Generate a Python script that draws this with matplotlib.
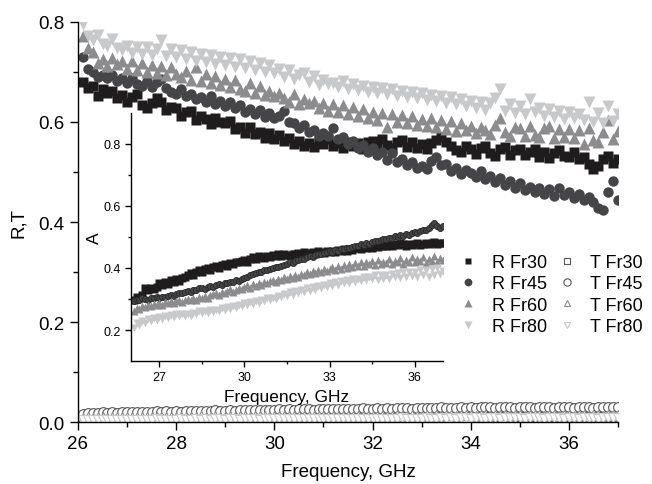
import numpy as np
import matplotlib
matplotlib.use('Agg')
import matplotlib.pyplot as plt

plt.rcParams['font.family'] = ['Liberation Sans', 'DejaVu Sans']

# measurement grid, GHz (26.1 ... 37.0, step 0.1)
freq = np.arange(261, 371) / 10.0

# reflection, main plot
r_fr30 = [0.680, 0.668, 0.672, 0.652, 0.666, 0.658, 0.662, 0.648, 0.654,
          0.640, 0.650, 0.656, 0.634, 0.628, 0.638, 0.648, 0.640, 0.624, 0.630,
          0.628, 0.612, 0.620, 0.622, 0.604, 0.612, 0.606, 0.596, 0.608, 0.600,
          0.598, 0.602, 0.586, 0.590, 0.578, 0.590, 0.576, 0.580, 0.568, 0.578,
          0.566, 0.574, 0.562, 0.568, 0.556, 0.562, 0.552, 0.558, 0.550, 0.562,
          0.556, 0.566, 0.552, 0.558, 0.548, 0.560, 0.552, 0.558, 0.546, 0.560,
          0.562, 0.552, 0.566, 0.554, 0.548, 0.560, 0.564, 0.550, 0.560, 0.548,
          0.556, 0.546, 0.558, 0.564, 0.570, 0.560, 0.552, 0.544, 0.540, 0.552,
          0.546, 0.536, 0.548, 0.552, 0.538, 0.532, 0.546, 0.550, 0.534, 0.544,
          0.546, 0.534, 0.540, 0.546, 0.530, 0.540, 0.528, 0.538, 0.544, 0.532,
          0.530, 0.540, 0.526, 0.530, 0.516, 0.506, 0.512, 0.526, 0.532, 0.518,
          0.526]
r_fr45 = [0.730, 0.706, 0.700, 0.690, 0.694, 0.688, 0.694, 0.682, 0.688,
          0.678, 0.688, 0.676, 0.672, 0.682, 0.670, 0.680, 0.686, 0.668, 0.660,
          0.656, 0.666, 0.652, 0.656, 0.646, 0.650, 0.640, 0.652, 0.636, 0.642,
          0.632, 0.640, 0.628, 0.634, 0.620, 0.626, 0.616, 0.624, 0.610, 0.618,
          0.608, 0.612, 0.622, 0.600, 0.598, 0.588, 0.594, 0.580, 0.584, 0.572,
          0.578, 0.572, 0.588, 0.566, 0.570, 0.556, 0.562, 0.548, 0.554, 0.540,
          0.548, 0.534, 0.540, 0.524, 0.538, 0.520, 0.526, 0.514, 0.520, 0.508,
          0.512, 0.506, 0.522, 0.530, 0.514, 0.516, 0.502, 0.508, 0.496, 0.504,
          0.498, 0.490, 0.502, 0.486, 0.492, 0.480, 0.488, 0.474, 0.482, 0.468,
          0.478, 0.464, 0.470, 0.460, 0.468, 0.456, 0.466, 0.452, 0.468, 0.454,
          0.460, 0.448, 0.456, 0.444, 0.450, 0.440, 0.428, 0.424, 0.460, 0.482,
          0.444]
r_fr60 = [0.772, 0.748, 0.740, 0.718, 0.726, 0.712, 0.728, 0.716, 0.722,
          0.706, 0.722, 0.704, 0.718, 0.700, 0.714, 0.698, 0.712, 0.694, 0.710,
          0.696, 0.690, 0.702, 0.684, 0.710, 0.682, 0.696, 0.678, 0.692, 0.674,
          0.686, 0.670, 0.684, 0.666, 0.662, 0.678, 0.658, 0.672, 0.654, 0.662,
          0.652, 0.658, 0.648, 0.640, 0.656, 0.636, 0.646, 0.638, 0.642, 0.628,
          0.638, 0.622, 0.636, 0.620, 0.634, 0.616, 0.630, 0.612, 0.626, 0.608,
          0.620, 0.604, 0.618, 0.590, 0.616, 0.600, 0.614, 0.598, 0.612, 0.594,
          0.606, 0.592, 0.608, 0.590, 0.604, 0.586, 0.602, 0.582, 0.598, 0.584,
          0.592, 0.578, 0.590, 0.584, 0.576, 0.594, 0.608, 0.580, 0.572, 0.590,
          0.588, 0.572, 0.592, 0.574, 0.570, 0.588, 0.592, 0.568, 0.586, 0.570,
          0.586, 0.568, 0.584, 0.556, 0.588, 0.564, 0.560, 0.580, 0.604, 0.566,
          0.582]
r_fr80 = [0.796, 0.772, 0.764, 0.774, 0.756, 0.752, 0.766, 0.748, 0.744,
          0.752, 0.738, 0.750, 0.736, 0.750, 0.734, 0.746, 0.764, 0.732, 0.746,
          0.730, 0.744, 0.726, 0.740, 0.722, 0.736, 0.720, 0.734, 0.716, 0.730,
          0.714, 0.728, 0.710, 0.726, 0.708, 0.722, 0.704, 0.718, 0.700, 0.714,
          0.698, 0.706, 0.690, 0.704, 0.686, 0.694, 0.698, 0.680, 0.692, 0.674,
          0.684, 0.676, 0.678, 0.670, 0.682, 0.666, 0.676, 0.664, 0.672, 0.660,
          0.670, 0.658, 0.668, 0.656, 0.666, 0.652, 0.662, 0.650, 0.660, 0.648,
          0.658, 0.644, 0.654, 0.642, 0.652, 0.638, 0.650, 0.636, 0.646, 0.632,
          0.642, 0.628, 0.640, 0.624, 0.638, 0.648, 0.666, 0.622, 0.636, 0.618,
          0.632, 0.616, 0.646, 0.620, 0.628, 0.612, 0.626, 0.610, 0.622, 0.606,
          0.620, 0.608, 0.616, 0.604, 0.640, 0.600, 0.618, 0.598, 0.632, 0.602,
          0.616]

# transmission, main plot
t_fr30 = [0.007, 0.008, 0.007, 0.008, 0.007, 0.008, 0.008, 0.007, 0.008,
          0.008, 0.008, 0.007, 0.008, 0.008, 0.009, 0.008, 0.008, 0.009, 0.008,
          0.008, 0.009, 0.008, 0.009, 0.009, 0.008, 0.009, 0.009, 0.008, 0.009,
          0.009, 0.009, 0.008, 0.009, 0.009, 0.010, 0.009, 0.009, 0.010, 0.009,
          0.009, 0.010, 0.009, 0.010, 0.009, 0.010, 0.010, 0.009, 0.010, 0.010,
          0.010, 0.009, 0.010, 0.010, 0.010, 0.011, 0.010, 0.010, 0.011, 0.010,
          0.010, 0.011, 0.010, 0.011, 0.010, 0.011, 0.011, 0.010, 0.011, 0.011,
          0.011, 0.010, 0.011, 0.011, 0.011, 0.012, 0.011, 0.011, 0.012, 0.011,
          0.011, 0.012, 0.011, 0.012, 0.011, 0.012, 0.012, 0.011, 0.012, 0.012,
          0.012, 0.011, 0.012, 0.012, 0.012, 0.011, 0.012, 0.012, 0.011, 0.012,
          0.012, 0.011, 0.012, 0.012, 0.011, 0.012, 0.012, 0.011, 0.012, 0.012,
          0.012]
t_fr45 = [0.017, 0.019, 0.018, 0.019, 0.020, 0.019, 0.020, 0.019, 0.020,
          0.020, 0.021, 0.020, 0.021, 0.020, 0.021, 0.022, 0.021, 0.022, 0.021,
          0.022, 0.021, 0.022, 0.023, 0.022, 0.023, 0.022, 0.023, 0.024, 0.023,
          0.023, 0.024, 0.023, 0.024, 0.025, 0.024, 0.024, 0.025, 0.024, 0.025,
          0.025, 0.026, 0.025, 0.026, 0.025, 0.026, 0.027, 0.026, 0.025, 0.026,
          0.026, 0.027, 0.026, 0.027, 0.026, 0.027, 0.026, 0.027, 0.028, 0.027,
          0.027, 0.028, 0.027, 0.028, 0.027, 0.028, 0.029, 0.028, 0.027, 0.028,
          0.028, 0.029, 0.028, 0.029, 0.030, 0.029, 0.028, 0.029, 0.030, 0.029,
          0.030, 0.029, 0.030, 0.031, 0.030, 0.029, 0.030, 0.031, 0.030, 0.029,
          0.030, 0.031, 0.030, 0.029, 0.030, 0.031, 0.030, 0.029, 0.030, 0.031,
          0.030, 0.029, 0.030, 0.031, 0.030, 0.029, 0.030, 0.031, 0.030, 0.031,
          0.030]
t_fr60 = [0.009, 0.010, 0.009, 0.010, 0.010, 0.009, 0.010, 0.010, 0.010,
          0.010, 0.011, 0.010, 0.010, 0.011, 0.010, 0.011, 0.011, 0.010, 0.011,
          0.011, 0.011, 0.010, 0.011, 0.011, 0.012, 0.011, 0.011, 0.012, 0.011,
          0.011, 0.012, 0.011, 0.012, 0.012, 0.011, 0.012, 0.012, 0.012, 0.011,
          0.012, 0.012, 0.013, 0.012, 0.012, 0.013, 0.012, 0.012, 0.013, 0.012,
          0.012, 0.013, 0.012, 0.013, 0.013, 0.012, 0.013, 0.013, 0.012, 0.013,
          0.013, 0.013, 0.012, 0.013, 0.013, 0.014, 0.013, 0.013, 0.014, 0.013,
          0.013, 0.014, 0.013, 0.014, 0.013, 0.014, 0.014, 0.013, 0.014, 0.014,
          0.014, 0.013, 0.014, 0.014, 0.013, 0.014, 0.014, 0.014, 0.013, 0.014,
          0.014, 0.013, 0.014, 0.014, 0.014, 0.013, 0.014, 0.014, 0.013, 0.014,
          0.014, 0.013, 0.014, 0.014, 0.013, 0.014, 0.014, 0.013, 0.014, 0.014,
          0.014]
t_fr80 = [0.004, 0.005, 0.004, 0.005, 0.005, 0.004, 0.005, 0.005, 0.005,
          0.005, 0.005, 0.004, 0.005, 0.005, 0.005, 0.006, 0.005, 0.005, 0.005,
          0.005, 0.006, 0.005, 0.005, 0.006, 0.005, 0.006, 0.005, 0.006, 0.006,
          0.005, 0.006, 0.006, 0.005, 0.006, 0.006, 0.006, 0.005, 0.006, 0.006,
          0.006, 0.006, 0.007, 0.006, 0.006, 0.006, 0.007, 0.006, 0.006, 0.007,
          0.006, 0.007, 0.006, 0.007, 0.007, 0.006, 0.007, 0.007, 0.006, 0.007,
          0.007, 0.007, 0.006, 0.007, 0.007, 0.007, 0.008, 0.007, 0.007, 0.007,
          0.007, 0.008, 0.007, 0.007, 0.008, 0.007, 0.008, 0.007, 0.008, 0.008,
          0.007, 0.008, 0.008, 0.007, 0.008, 0.008, 0.007, 0.008, 0.008, 0.008,
          0.008, 0.007, 0.008, 0.008, 0.008, 0.007, 0.008, 0.008, 0.008, 0.007,
          0.008, 0.008, 0.007, 0.008, 0.008, 0.008, 0.007, 0.008, 0.008, 0.008,
          0.008]

# absorption, inset
a_fr30 = [0.296, 0.308, 0.304, 0.312, 0.334, 0.330, 0.336, 0.332, 0.340,
          0.352, 0.344, 0.356, 0.348, 0.360, 0.354, 0.364, 0.358, 0.368, 0.372,
          0.376, 0.384, 0.378, 0.388, 0.392, 0.386, 0.396, 0.400, 0.394, 0.404,
          0.406, 0.400, 0.410, 0.414, 0.408, 0.416, 0.412, 0.420, 0.418, 0.422,
          0.426, 0.420, 0.430, 0.434, 0.428, 0.438, 0.436, 0.432, 0.440, 0.436,
          0.442, 0.438, 0.444, 0.440, 0.446, 0.442, 0.438, 0.446, 0.444, 0.448,
          0.446, 0.450, 0.444, 0.448, 0.452, 0.446, 0.454, 0.450, 0.448, 0.454,
          0.452, 0.456, 0.450, 0.458, 0.454, 0.460, 0.456, 0.462, 0.458, 0.464,
          0.466, 0.462, 0.468, 0.464, 0.470, 0.466, 0.472, 0.468, 0.474, 0.470,
          0.472, 0.476, 0.470, 0.478, 0.474, 0.480, 0.476, 0.472, 0.478, 0.474,
          0.476, 0.480, 0.474, 0.478, 0.482, 0.476, 0.480, 0.484, 0.478, 0.482,
          0.480]
a_fr45 = [0.292, 0.298, 0.296, 0.302, 0.300, 0.298, 0.304, 0.302, 0.306,
          0.304, 0.308, 0.306, 0.310, 0.312, 0.310, 0.316, 0.318, 0.320, 0.322,
          0.326, 0.324, 0.330, 0.328, 0.334, 0.336, 0.332, 0.338, 0.342, 0.340,
          0.344, 0.348, 0.346, 0.352, 0.350, 0.356, 0.354, 0.360, 0.358, 0.364,
          0.368, 0.372, 0.376, 0.380, 0.384, 0.388, 0.386, 0.392, 0.394, 0.398,
          0.400, 0.404, 0.402, 0.408, 0.410, 0.414, 0.418, 0.416, 0.422, 0.426,
          0.430, 0.428, 0.434, 0.438, 0.436, 0.442, 0.446, 0.444, 0.448, 0.452,
          0.454, 0.450, 0.458, 0.456, 0.462, 0.460, 0.466, 0.464, 0.468, 0.470,
          0.472, 0.476, 0.474, 0.480, 0.478, 0.484, 0.488, 0.486, 0.490, 0.494,
          0.492, 0.498, 0.496, 0.502, 0.500, 0.506, 0.504, 0.510, 0.508, 0.514,
          0.516, 0.512, 0.520, 0.524, 0.522, 0.530, 0.540, 0.546, 0.536, 0.528,
          0.534]
a_fr60 = [0.262, 0.272, 0.268, 0.278, 0.274, 0.280, 0.276, 0.284, 0.280,
          0.286, 0.282, 0.290, 0.286, 0.294, 0.288, 0.292, 0.298, 0.290, 0.296,
          0.300, 0.296, 0.304, 0.298, 0.306, 0.302, 0.310, 0.304, 0.312, 0.316,
          0.318, 0.314, 0.322, 0.318, 0.326, 0.332, 0.324, 0.330, 0.336, 0.332,
          0.338, 0.344, 0.336, 0.348, 0.342, 0.352, 0.346, 0.354, 0.350, 0.358,
          0.360, 0.356, 0.366, 0.362, 0.370, 0.366, 0.374, 0.368, 0.378, 0.372,
          0.380, 0.376, 0.386, 0.380, 0.390, 0.384, 0.392, 0.386, 0.398, 0.390,
          0.396, 0.402, 0.392, 0.406, 0.398, 0.410, 0.400, 0.412, 0.404, 0.416,
          0.408, 0.418, 0.406, 0.420, 0.412, 0.424, 0.410, 0.426, 0.414, 0.420,
          0.416, 0.428, 0.412, 0.424, 0.418, 0.432, 0.414, 0.426, 0.420, 0.434,
          0.418, 0.430, 0.422, 0.436, 0.416, 0.428, 0.424, 0.438, 0.420, 0.432,
          0.426]
a_fr80 = [0.206, 0.224, 0.216, 0.230, 0.222, 0.236, 0.228, 0.240, 0.232,
          0.242, 0.236, 0.246, 0.238, 0.248, 0.242, 0.252, 0.244, 0.250, 0.246,
          0.252, 0.246, 0.256, 0.250, 0.260, 0.254, 0.262, 0.256, 0.264, 0.258,
          0.266, 0.260, 0.270, 0.264, 0.274, 0.268, 0.278, 0.272, 0.282, 0.276,
          0.286, 0.280, 0.290, 0.284, 0.294, 0.288, 0.298, 0.292, 0.302, 0.296,
          0.304, 0.300, 0.310, 0.306, 0.316, 0.310, 0.322, 0.314, 0.326, 0.318,
          0.330, 0.322, 0.334, 0.326, 0.338, 0.330, 0.342, 0.334, 0.346, 0.338,
          0.350, 0.342, 0.354, 0.346, 0.358, 0.350, 0.362, 0.352, 0.364, 0.356,
          0.366, 0.358, 0.370, 0.360, 0.372, 0.364, 0.376, 0.362, 0.378, 0.366,
          0.376, 0.366, 0.382, 0.370, 0.384, 0.368, 0.386, 0.372, 0.388, 0.374,
          0.386, 0.372, 0.392, 0.376, 0.394, 0.370, 0.396, 0.378, 0.400, 0.380,
          0.390]

names = ['Fr30', 'Fr45', 'Fr60', 'Fr80']
markers = ['s', 'o', '^', 'v']
colors = ['#1f1c1d', '#454547', '#8c8c8e', '#c8c9cb']
sizes = [6.5, 7.5, 8.0, 8.0]
inset_sizes = [5.2, 4.4, 6.0, 6.0]

fig = plt.figure(figsize=(6.52, 4.85), dpi=100)
ax = fig.add_axes([0.1196, 0.1278, 0.8283, 0.8248])

for spine in ('top', 'right'):
    ax.spines[spine].set_visible(False)


def style_axis(a, size, major, minor):
    a.tick_params(which='major', direction='out', length=major, width=1,
                  labelsize=size)
    a.tick_params(which='minor', direction='out', length=minor, width=1)
    for s in ('left', 'bottom'):
        a.spines[s].set_linewidth(1)


r_series = [r_fr30, r_fr45, r_fr60, r_fr80]
t_series = [t_fr30, t_fr45, t_fr60, t_fr80]
a_series = [a_fr30, a_fr45, a_fr60, a_fr80]

r_handles = []
t_handles = []
for t, m, c in zip(t_series, markers, colors):
    h, = ax.plot(freq, t, ls='none', marker=m, ms=7.0 if m == 'o' else 6.5,
                 mfc='white', mec='#555555' if m in 'so' else c, mew=0.8)
    t_handles.append(h)
for r, m, c, s in zip(r_series, markers, colors, sizes):
    h, = ax.plot(freq, r, ls='none', marker=m, ms=s, color=c, mec='none')
    r_handles.append(h)

ax.set_xlim(26, 37)
ax.set_ylim(0, 0.8)
ax.set_xticks([26, 28, 30, 32, 34, 36])
ax.set_xticks([27, 29, 31, 33, 35, 37], minor=True)
ax.set_yticks([0.0, 0.2, 0.4, 0.6, 0.8])
ax.set_yticks([0.1, 0.3, 0.5, 0.7], minor=True)
ax.yaxis.set_major_formatter(plt.FuncFormatter(lambda v, p: '%.1f' % v))
style_axis(ax, 13.5, 6, 3.5)
ax.set_xlabel('Frequency, GHz', fontsize=13.5, labelpad=8)
ax.set_ylabel('R,T', fontsize=13.5, labelpad=8)

# inset: absorption
ins = fig.add_axes([0.2009, 0.2536, 0.4785, 0.5114])
ins.patch.set_alpha(0)
for spine in ('top', 'right'):
    ins.spines[spine].set_visible(False)
for a_val, m, c, s in zip(a_series, markers, colors, inset_sizes):
    if m == 'o':
        ins.plot(freq, a_val, ls='none', marker=m, ms=s, color=c,
                 mec='#2a2a2a', mew=0.6)
    else:
        ins.plot(freq, a_val, ls='none', marker=m, ms=s, color=c, mec='none')
ins.set_xlim(26, 37)
ins.set_ylim(0.1, 0.9)
ins.set_xticks([27, 30, 33, 36])
ins.set_xticks([28.5, 31.5, 34.5], minor=True)
ins.set_yticks([0.2, 0.4, 0.6, 0.8])
ins.set_yticks([0.3, 0.5, 0.7], minor=True)
style_axis(ins, 9, 4, 2.5)
ins.set_xlabel('Frequency, GHz', fontsize=12.5, labelpad=4)
ins.set_ylabel('A', fontsize=12.5, labelpad=1)

labels = ['R ' + n for n in names] + ['T ' + n for n in names]
leg = fig.legend(r_handles + t_handles, labels, ncol=2, frameon=False,
                 loc='upper left', bbox_to_anchor=(0.685, 0.50),
                 fontsize=13, handlelength=1.0, handletextpad=0.8,
                 columnspacing=0.6, labelspacing=0.24, borderpad=0.2,
                 markerscale=0.75)

fig.savefig('out.png', dpi=100)
